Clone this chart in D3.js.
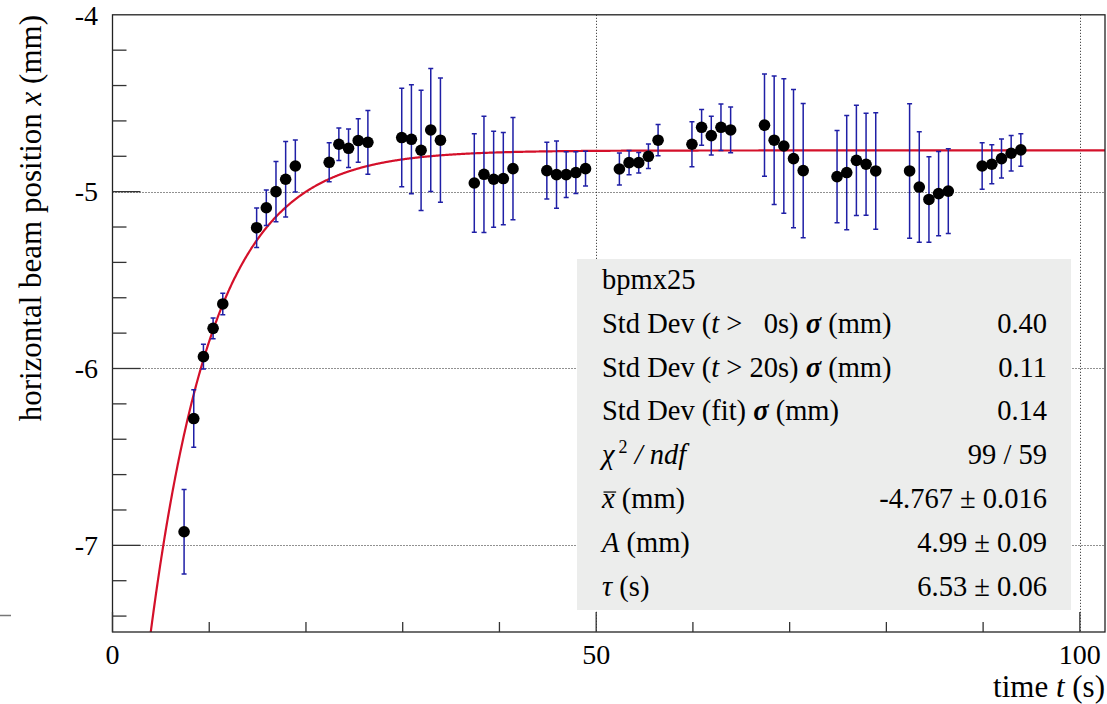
<!DOCTYPE html>
<html><head><meta charset="utf-8">
<script src="https://cdn.jsdelivr.net/npm/d3@7"></script>
<style>
body{margin:0;background:#fff}
svg{display:block}
svg text{font-family:"Liberation Serif","Times New Roman",serif}
</style></head><body>
<svg id="c" width="1107" height="704"></svg>
<script>
// BPM horizontal position samples (time in s, position and error in mm)
const times = [
  7.4, 8.4, 9.4, 10.4, 11.4,
  14.9, 15.9, 16.9, 17.9, 18.9,
  22.4, 23.4, 24.4, 25.4, 26.4,
  29.9, 30.9, 31.9, 32.9, 33.9,
  37.4, 38.4, 39.4, 40.4, 41.4,
  44.9, 45.9, 46.9, 47.9, 48.9,
  52.4, 53.4, 54.4, 55.4, 56.4,
  59.9, 60.9, 61.9, 62.9, 63.9,
  67.4, 68.4, 69.4, 70.4, 71.4,
  74.9, 75.9, 76.9, 77.9, 78.9,
  82.4, 83.4, 84.4, 85.4, 86.4,
  89.9, 90.9, 91.9, 92.9, 93.9
];
const positions = [
  -6.923, -6.283, -5.933, -5.773, -5.635,
  -5.204, -5.091, -5.000, -4.930, -4.855,
  -4.834, -4.732, -4.755, -4.711, -4.721,
  -4.694, -4.704, -4.766, -4.651, -4.709,
  -4.951, -4.902, -4.930, -4.926, -4.870,
  -4.881, -4.904, -4.904, -4.892, -4.870,
  -4.872, -4.836, -4.836, -4.800, -4.709,
  -4.732, -4.636, -4.683, -4.636, -4.651,
  -4.624, -4.709, -4.742, -4.813, -4.881,
  -4.915, -4.892, -4.823, -4.845, -4.883,
  -4.883, -4.974, -5.044, -5.011, -4.997,
  -4.855, -4.845, -4.813, -4.783, -4.764
];
const errors = [
  0.239, 0.163, 0.070, 0.059, 0.061,
  0.112, 0.100, 0.170, 0.214, 0.147,
  0.110, 0.092, 0.109, 0.123, 0.180,
  0.279, 0.308, 0.340, 0.348, 0.351,
  0.278, 0.329, 0.272, 0.261, 0.289,
  0.161, 0.190, 0.129, 0.118, 0.098,
  0.091, 0.069, 0.058, 0.069, 0.088,
  0.127, 0.101, 0.110, 0.131, 0.129,
  0.289, 0.363, 0.380, 0.391, 0.380,
  0.261, 0.323, 0.312, 0.289, 0.329,
  0.380, 0.312, 0.242, 0.238, 0.240,
  0.132, 0.110, 0.110, 0.100, 0.092
];

// fit parameters: x(t) = xbar - A * exp(-t / tau)
const fitMean = -4.767, fitAmp = 4.99, fitTau = 6.53;

const xMajorTicks = [0, 50, 100];
const yMajorTicks = [-4, -5, -6, -7];

// statistics box rows: label segments and value
const statLabels = [
  [["bpmx25", ""]],
  [["Std Dev (", ""], ["t", "i"], [" > \u20070s) ", ""], ["σ", "b"], [" (mm)", ""]],
  [["Std Dev (", ""], ["t", "i"], [" > 20s) ", ""], ["σ", "b"], [" (mm)", ""]],
  [["Std Dev (fit) ", ""], ["σ", "b"], [" (mm)", ""]],
  [["χ", "i"], ["2", "sup"], [" / ndf", "i"]],
  [["x", "bar"], [" (mm)", ""]],
  [["A", "i"], [" (mm)", ""]],
  [["τ", "i"], [" (s)", ""]]
];
const statValues = ["", "0.40", "0.11", "0.14", "99 / 59", "-4.767 ± 0.016", "4.99 ± 0.09", "6.53 ± 0.06"];

const svg = d3.select("#c");
const pLeft = 112.5, pRight = 1105, pTop = 14.8, pBottom = 632;

const x = d3.scaleLinear().domain([0, 102.6]).range([pLeft, pRight]);
const y = d3.scaleLinear().domain([-7.49, -4]).range([pBottom, pTop]);

svg.append("defs").append("clipPath").attr("id", "plotclip")
  .append("rect").attr("x", pLeft).attr("y", pTop).attr("width", pRight - pLeft).attr("height", pBottom - pTop);

// grid
const grid = svg.append("g").attr("stroke", "#222").attr("stroke-width", 1).attr("stroke-dasharray", "1,2");
grid.selectAll("line.h").data(yMajorTicks.filter(v => v > -7.49 && v < -4)).join("line")
  .attr("x1", pLeft).attr("x2", pRight).attr("y1", d => Math.round(y(d)) + 0.5).attr("y2", d => Math.round(y(d)) + 0.5);
grid.selectAll("line.v").data(xMajorTicks.filter(v => v > 0)).join("line")
  .attr("y1", pTop).attr("y2", pBottom).attr("x1", d => Math.round(x(d)) + 0.5).attr("x2", d => Math.round(x(d)) + 0.5);

// fit curve
const curveT = d3.range(0, 102.61, 0.05);
const line = d3.line().x(t => x(t)).y(t => y(fitMean - fitAmp * Math.exp(-t / fitTau)));
svg.append("path").datum(curveT).attr("clip-path", "url(#plotclip)")
  .attr("d", line).attr("fill", "none").attr("stroke", "#d4102a").attr("stroke-width", 2.2);

// statistics box (drawn over grid)
const box = svg.append("g");
box.append("rect").attr("x", 577).attr("y", 259).attr("width", 494).attr("height", 351).attr("fill", "#ecedec");

// error bars
const pts = times.map((t, i) => ({t, v: positions[i], e: errors[i]}));
const eb = svg.append("g").attr("stroke", "#1f1fa6").attr("stroke-width", 1.5).attr("fill", "none");
eb.selectAll("path").data(pts).join("path")
  .attr("d", d => {
    const cx = x(d.t), y1 = y(d.v + d.e), y2 = y(d.v - d.e);
    return `M${cx},${y1}V${y2}M${cx - 2.5},${y1}H${cx + 2.5}M${cx - 2.5},${y2}H${cx + 2.5}`;
  });

// markers
svg.append("g").selectAll("circle").data(pts).join("circle")
  .attr("cx", d => x(d.t)).attr("cy", d => y(d.v)).attr("r", 5.8).attr("fill", "#000");

// frame
svg.append("rect").attr("x", pLeft).attr("y", pTop).attr("width", pRight - pLeft).attr("height", pBottom - pTop)
  .attr("fill", "none").attr("stroke", "#222").attr("stroke-width", 1.3);

// ticks
const ticks = svg.append("g").attr("stroke", "#333").attr("stroke-width", 1.3);
const yMinor = d3.range(-7.4, -4.0001, 0.2);
ticks.selectAll("line.ym").data(yMinor).join("line")
  .attr("x1", pLeft).attr("x2", d => pLeft + (Math.abs(d - Math.round(d)) < 1e-6 ? 28 : 14))
  .attr("y1", d => y(d)).attr("y2", d => y(d));
const xMinor = d3.range(0, 100.001, 10);
ticks.selectAll("line.xm").data(xMinor).join("line")
  .attr("y1", pBottom).attr("y2", d => pBottom - (d % 50 === 0 ? 20 : 10))
  .attr("x1", d => x(d)).attr("x2", d => x(d));

// tick labels
const lab = svg.append("g").attr("font-size", 28).attr("fill", "#000");
lab.selectAll("text.x").data(xMajorTicks).join("text")
  .attr("x", d => x(d)).attr("y", 664).attr("text-anchor", "middle").text(d => d);
lab.selectAll("text.y").data(yMajorTicks).join("text")
  .attr("x", 98).attr("y", d => y(d)).attr("dy", "0.35em").attr("text-anchor", "end").text(d => d);

// axis titles
const xt = svg.append("text").attr("x", 1105).attr("y", 697).attr("text-anchor", "end").attr("font-size", 31);
xt.append("tspan").text("time ");
xt.append("tspan").attr("font-style", "italic").text("t");
xt.append("tspan").text(" (s)");

const yt = svg.append("text").attr("transform", "translate(41,15) rotate(-90)").attr("text-anchor", "end").attr("font-size", 31);
yt.append("tspan").text("horizontal beam position ");
yt.append("tspan").attr("font-style", "italic").text("x");
yt.append("tspan").text(" (mm)");

// statistics text
const statSize = 28.5;
const st = box.append("g").attr("font-size", statSize).attr("fill", "#000").style("white-space", "pre");
statLabels.forEach((segs, i) => {
  const by = 289 + i * 43.8;
  const t = st.append("text").attr("x", 602).attr("y", by);
  segs.forEach(([s, kind]) => {
    const ts = t.append("tspan").text(s);
    if (kind === "i" || kind === "bar") ts.attr("font-style", "italic");
    if (kind === "b") ts.attr("font-weight", "bold").attr("font-style", "italic");
    if (kind === "sup") ts.attr("font-size", 18).attr("baseline-shift", "60%").attr("dx", 4);
  });
  // bar over the mean symbol
  if (segs[0][1] === "bar") {
    const w = t.node().getSubStringLength(0, 1);
    st.append("line").attr("x1", 602 + 1.5).attr("x2", 602 + w + 1.5)
      .attr("y1", by - 0.56 * statSize).attr("y2", by - 0.56 * statSize)
      .attr("stroke", "#000").attr("stroke-width", 1.2);
  }
  if (statValues[i]) {
    st.append("text").attr("x", 1047).attr("y", by).attr("text-anchor", "end").text(statValues[i]);
  }
});

// short mark at the left margin
svg.append("line").attr("x1", 0).attr("x2", 11).attr("y1", 615.5).attr("y2", 615.5)
  .attr("stroke", "#777").attr("stroke-width", 1.5);
</script>
</body></html>
